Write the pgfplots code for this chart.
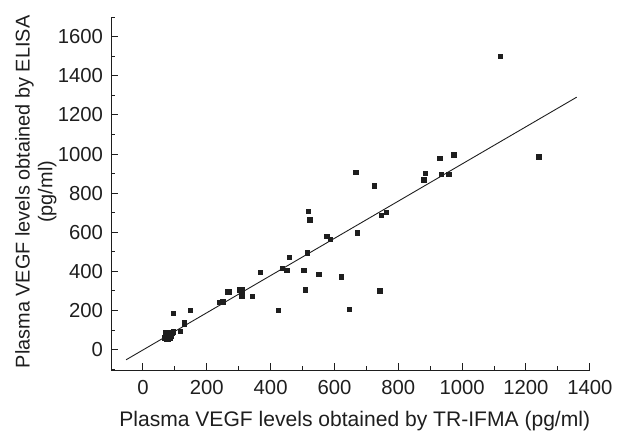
\documentclass[border=0pt]{standalone}
\usepackage{fontspec}
\setmainfont{Liberation Sans}
\usepackage{pgfplots}
\pgfplotsset{compat=1.18}
\definecolor{ink}{HTML}{1E1E1E}

\begin{document}
\begin{tikzpicture}
% keep the reference's margins (1px = 0.5pt)
\path (-55.85pt,-32.35pt) rectangle (253.65pt,186.15pt);
\begin{axis}[at={(0,0)},anchor=south west,scale only axis,
 width=240.8pt,height=177.5pt,
 xmin=-100,xmax=1400,ymin=-105,ymax=1700,
 axis x line=bottom,axis y line=left,
 axis line style={-,ink,line width=0.5pt},
 xtick={0,200,...,1400},ytick={0,200,...,1600},
 minor xtick={-100,100,...,1300},minor ytick={-100,100,...,1700},
 tick align=inside,
 major tick length=3.5pt,minor tick length=2pt,
 every tick/.style={ink,line width=0.5pt},
 /pgf/number format/assume math mode=true,
 /pgf/number format/1000 sep={},
 tick label style={font=\fontsize{10.2}{11}\selectfont,text=ink},
 yticklabel style={xshift=-0.5pt},
 xticklabel style={yshift=-1.5pt},
 label style={font=\fontsize{10.6}{12}\selectfont,text=ink,inner sep=0pt},
 xlabel={Plasma VEGF levels obtained by TR-IFMA (pg/ml)},
 ylabel={Plasma VEGF levels obtained by ELISA\\(pg/ml)},
 xlabel style={at={(axis description cs:0.509,-0.143)},anchor=center},
 ylabel style={at={(axis description cs:-0.157,0.505)},anchor=center,align=center,
  font=\fontsize{10}{11.5}\selectfont},
 clip=false]
\addplot[only marks,mark=square*,mark size=1.1pt,ink] coordinates {
 (1120,1500)(1240,985)(667,906)(726,838)(880,867)(884,901)(930,979)
 (935,897)(958,897)(974,996)(518,706)(523,663)(747,686)(763,701)
 (672,597)(576,579)(588,563)(515,494)(458,473)(436,416)(451,406)
 (504,404)(368,395)(551,383)(622,372)(508,305)(742,300)(304,305)
 (311,305)(264,295)(271,295)(310,275)(342,273)(240,241)(251,244)
 (424,199)(646,204)(149,199)(96,185)(130,129)(130,139)(118,93)(96,93)
 (68,60)(72,75)(75,65)(78,80)(80,55)(82,70)(85,62)(88,78)(90,68)
 (92,85)(70,85)(86,58)(95,90)(75,55)(83,88)
};
\addplot[ink,line width=0.45pt] coordinates {(-53,-52.4)(1359,1291)};
\end{axis}
\end{tikzpicture}
\end{document}
